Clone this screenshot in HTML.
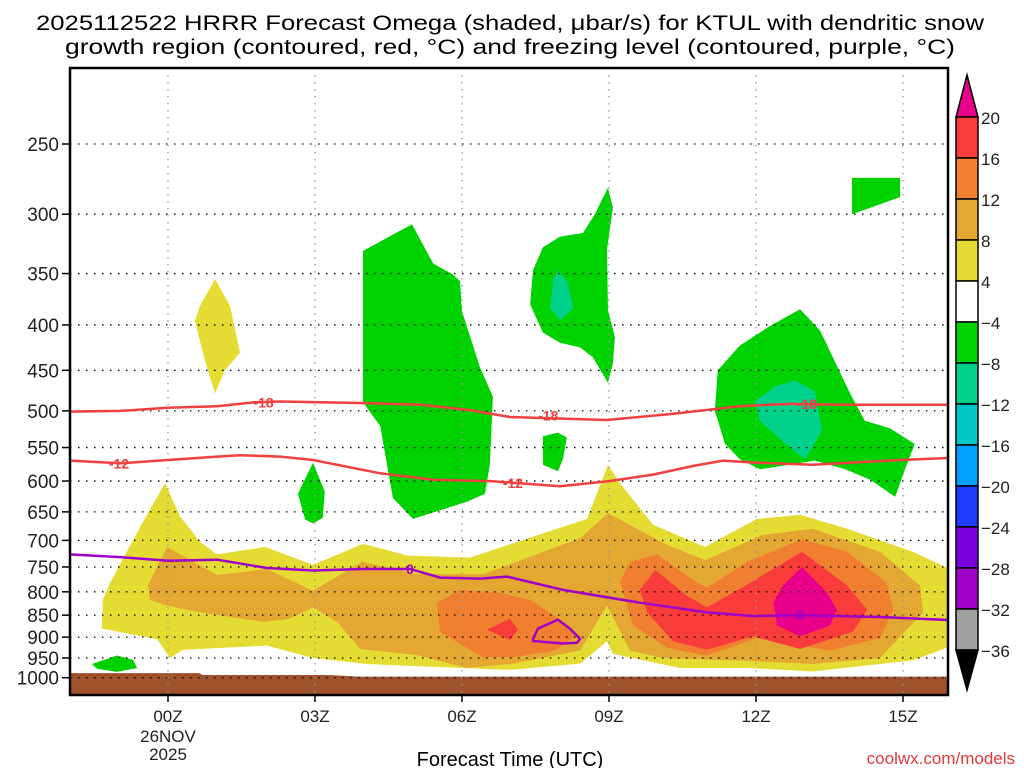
<!DOCTYPE html>
<html><head><meta charset="utf-8"><style>
html,body{margin:0;padding:0;background:#fff;}
svg{display:block;font-family:"Liberation Sans","DejaVu Sans",sans-serif;}
</style></head><body>
<svg id="chart" width="1024" height="768" viewBox="0 0 1024 768" xmlns="http://www.w3.org/2000/svg">
<rect x="0" y="0" width="1024" height="768" fill="#fff"/>
<text x="510" y="30" text-anchor="middle" font-size="21" textLength="948" lengthAdjust="spacingAndGlyphs">2025112522 HRRR Forecast Omega (shaded, μbar/s) for KTUL with dendritic snow</text>
<text x="510" y="54" text-anchor="middle" font-size="21" textLength="890" lengthAdjust="spacingAndGlyphs">growth region (contoured, red, °C) and freezing level (contoured, purple, °C)</text>
<g id="shading"></g>
<g id="grid"></g>
<g id="contours"></g>
<g id="axes"></g>
<g id="colorbar"></g>
<text x="510" y="766" text-anchor="middle" font-size="20">Forecast Time (UTC)</text>
<text x="1015" y="764" text-anchor="end" font-size="17" fill="#e03a3a">coolwx.com/models</text>
</svg>
<script>
// ---- data ----
const pressureTicks = [250,300,350,400,450,500,550,600,650,700,750,800,850,900,950,1000];
const hourTicks = [0,3,6,9,12,15];
const hourTickLabels = ["00Z","03Z","06Z","09Z","12Z","15Z"];
const colorLevels = [20,16,12,8,4,-4,-8,-12,-16,-20,-24,-28,-32,-36];
const colorFills = ["#f83c3c","#f08030","#e4a832","#e4dc32","#ffffff","#00d200","#00d28c","#00c8c8","#00a0ff","#1e3cff","#7800dc","#a000c8","#a0a0a0"];

const yellowRegion = [[-1.35,880],[-1.33,817],[-1.18,781],[-0.84,721],[-0.51,667],[-0.06,603],[0.24,657],[0.65,702],[1.0,726],[1.98,712],[2.96,746],[3.98,706],[4.88,728],[6.16,732],[8.55,662],[8.98,575],[9.22,603],[9.9,672],[10.96,712],[12.02,662],[12.9,655],[13.86,679],[15.2,721],[15.96,754],[15.96,922],[15.2,956],[13.16,984],[11.82,975],[10.45,975],[9.08,940],[8.96,910],[8.41,964],[7.04,979],[6.78,979],[4.06,965],[2.96,950],[2.02,920],[0.31,930],[0.04,950],[-0.22,905]];
const goldRegion = [[-0.02,712],[1.0,766],[2.02,754],[2.96,798],[3.96,740],[5.08,764],[6.43,764],[8.41,696],[8.98,652],[9.57,679],[10.18,708],[10.96,737],[12.14,690],[13.16,679],[14.53,721],[15.35,787],[15.41,844],[14.53,950],[13.16,965],[11.82,957],[10.1,950],[9.43,932],[8.96,829],[8.41,932],[7.04,964],[6.1,975],[5.08,943],[3.92,928],[3.45,865],[2.96,833],[2.49,858],[1.94,865],[0.65,844],[-0.02,829],[-0.37,817],[-0.41,787]];
const orangeRegionA = [[5.49,823],[5.96,796],[6.78,802],[7.39,817],[8.0,859],[8.31,898],[7.9,932],[7.04,948],[6.43,948],[5.96,916],[5.55,887]];
const orangeRegionB = [[9.22,779],[9.43,740],[9.98,726],[10.71,775],[11.0,791],[11.82,740],[12.94,698],[13.86,721],[14.67,781],[14.8,838],[14.53,902],[13.51,932],[12.02,902],[11.0,944],[10.18,925],[9.49,873]];
const redRegionA = [[6.51,883],[6.98,858],[7.14,883],[6.98,907]];
const redRegionB = [[9.63,796],[9.94,756],[10.59,808],[11.0,833],[11.82,785],[12.94,721],[13.86,787],[14.27,838],[13.98,887],[12.9,928],[11.94,898],[11.0,930],[10.31,910],[9.78,844]];
const magentaRegion = [[12.94,750],[13.45,802],[13.65,838],[13.51,873],[12.9,898],[12.43,873],[12.35,823],[12.55,787]];
const upperYellowRegion = [[0.65,381],[0.96,355],[1.27,381],[1.47,430],[1.16,450],[0.96,478],[0.76,440],[0.55,396]];
const greenRegionA = [[3.98,330],[4.98,308],[5.41,341],[5.82,351],[5.96,357],[6.0,386],[6.37,447],[6.63,482],[6.57,574],[6.47,620],[6.10,633],[5.0,662],[4.59,627],[4.33,520],[3.98,489]];
const greenRegionB = [[2.96,572],[3.2,617],[3.16,660],[2.96,670],[2.8,663],[2.65,620]];
const greenRegionC = [[8.98,280],[9.08,295],[8.96,329],[8.98,385],[9.12,413],[9.08,442],[8.98,465],[8.67,435],[8.41,424],[8.0,419],[7.65,408],[7.39,379],[7.45,347],[7.65,327],[8.0,318],[8.47,315],[8.71,300]];
const greenRegionD = [[7.65,534],[7.96,529],[8.14,536],[8.06,567],[7.96,585],[7.65,575]];
const greenRegionE = [[12.9,384],[13.31,406],[13.61,440],[13.92,478],[14.22,513],[14.73,523],[15.24,545],[15.04,582],[14.84,625],[14.33,598],[13.82,582],[13.2,569],[12.69,575],[12.08,582],[11.67,567],[11.37,545],[11.16,500],[11.22,450],[11.67,422],[12.29,401]];
const greenRegionF = [[13.96,273],[14.94,273],[14.94,287],[13.96,300]];
const greenRegionG = [[-1.55,965],[-1.04,944],[-0.71,955],[-0.63,975],[-1.04,985],[-1.45,977]];
const tealRegionA = [[7.96,347],[8.16,358],[8.27,383],[8.0,395],[7.8,383],[7.86,356]];
const tealRegionB = [[12.8,462],[13.2,475],[13.35,526],[13.0,567],[12.49,538],[12.08,513],[11.98,488],[12.39,469]];
const surfaceHours = [-2,0.65,0.7,3.3,3.9,16];
const surfacePressure = [988,988,993,993,997,997];

const freezingLevel = [[-2,726],[-0.98,731],[0,738],[1,736],[2.02,752],[2.96,757],[3.98,754],[4.94,754],[5.55,771],[6.37,773],[6.92,769],[8.06,796],[8.76,808],[9.63,823],[11,844],[11.94,852],[12.9,850],[14.53,854],[15.96,861]];
const freezingLoop = [[7.45,904],[7.55,880],[7.96,860],[8.2,880],[8.41,904],[8.35,913],[8.06,915],[7.45,909]];
const minus18Line = [[-2,501],[-0.98,500],[0,496],[1,494],[1.77,489],[2.29,488],[4.04,490],[5.16,492],[6.16,499],[6.98,508],[8.96,512],[10.29,504],[11.67,494],[12.69,491],[13.71,492],[15.96,492]];
const minus12Line = [[-2,569],[-0.98,573],[0,568],[1,563],[1.47,561],[2.29,563],[2.96,568],[4.33,588],[5.41,598],[6.57,600],[8,608],[9.0,600],[9.9,590],[10.71,577],[11.33,569],[12.0,572],[13.16,575],[14.69,569],[15.96,565]];
const contourLabels = [["-18",1.95,489,"#f04040"],["-18",7.76,506,"#f04040"],["-18",13.04,491,"#f04040"],["-12",-1.0,573,"#f04040"],["-12",7.04,603,"#f04040"],["0",4.94,754,"#a000c8"],["0",12.9,850,"#a000c8"]];

// ---- axes ----
const PL=70, PR=948, PT=68, PB=695;
function xs(h){return 168+49*h;}
function ys(p){return 144+385*Math.log(p/250);}
const NS="http://www.w3.org/2000/svg";
function mk(tag,attrs,parent){const e=document.createElementNS(NS,tag);for(const k in attrs)e.setAttribute(k,attrs[k]);parent.appendChild(e);return e;}
function pts(arr){return arr.map(d=>xs(d[0]).toFixed(1)+","+ys(d[1]).toFixed(1)).join(" ");}

const shadingG=document.getElementById("shading");
const clipEl=mk("clipPath",{id:"plotclip"},document.getElementById("chart"));
mk("rect",{x:PL,y:PT,width:PR-PL,height:PB-PT},clipEl);
shadingG.setAttribute("clip-path","url(#plotclip)");
const regions=[["yellow-region-main",yellowRegion,"#e4dc32"],["yellow-region-upper",upperYellowRegion,"#e4dc32"],["gold-region",goldRegion,"#e4a832"],["orange-region-a",orangeRegionA,"#f08030"],["orange-region-b",orangeRegionB,"#f08030"],["red-region-a",redRegionA,"#f83c3c"],["red-region-b",redRegionB,"#f83c3c"],["magenta-region",magentaRegion,"#e8008a"],["green-region-a",greenRegionA,"#00d200"],["green-region-b",greenRegionB,"#00d200"],["green-region-c",greenRegionC,"#00d200"],["green-region-d",greenRegionD,"#00d200"],["green-region-e",greenRegionE,"#00d200"],["green-region-f",greenRegionF,"#00d200"],["green-region-g",greenRegionG,"#00d200"],["teal-region-a",tealRegionA,"#00d28c"],["teal-region-b",tealRegionB,"#00d28c"]];
regions.forEach(r=>{
  const e=mk("polygon",{points:pts(r[1]),fill:r[2],"stroke-linejoin":"round"},shadingG);
  
  
});
// terrain
let terrPath="M"+xs(surfaceHours[0])+","+PB;
surfaceHours.forEach((h,i)=>{terrPath+=" L"+xs(h).toFixed(1)+","+ys(surfacePressure[i]).toFixed(1);});
terrPath+=" L"+xs(surfaceHours[surfaceHours.length-1])+","+PB+" Z";
const terrEl=mk("path",{d:terrPath,fill:"#a0522d"},shadingG);



// grid
const gridG=document.getElementById("grid");
pressureTicks.forEach(p=>{
  const g=mk("line",{x1:PL,x2:PR,y1:ys(p),y2:ys(p),stroke:"#000","stroke-width":1.3,"stroke-dasharray":"1.5 6.5"},gridG);
  
  
});
hourTicks.forEach(h=>{
  const g=mk("line",{x1:xs(h),x2:xs(h),y1:PT,y2:PB,stroke:"#999","stroke-width":1.3,"stroke-dasharray":"1.5 5.5"},gridG);
  
  
});

// contours
const contG=document.getElementById("contours");
contG.setAttribute("clip-path","url(#plotclip)");
const lineDefs=[["freezing-level-line",freezingLevel,"#a000c8",false],["freezing-level-loop",freezingLoop,"#a000c8",true],["minus18-contour",minus18Line,"#f04040",false],["minus12-contour",minus12Line,"#f04040",false]];
lineDefs.forEach(l=>{
  const e=mk(l[3]?"polygon":"polyline",{points:pts(l[1]),fill:"none",stroke:l[2],"stroke-width":2.5,"stroke-linejoin":"round"},contG);
  
  
});
contourLabels.forEach(c=>{
  const t=mk("text",{x:xs(c[1]),y:ys(c[2])+5,"text-anchor":"middle","font-size":14,"font-weight":"bold",fill:c[3]},contG);
  t.textContent=c[0];
  
  
});

// axes
const axesG=document.getElementById("axes");
const frameEl=mk("rect",{x:PL,y:PT,width:PR-PL,height:PB-PT,fill:"none",stroke:"#000","stroke-width":2.5},axesG);


pressureTicks.forEach(p=>{
  const t=mk("text",{x:59,y:ys(p)+7,"text-anchor":"end","font-size":19,fill:"#222"},axesG);
  t.textContent=p;
  
  
  const tk=mk("line",{x1:PL-8,x2:PL,y1:ys(p),y2:ys(p),stroke:"#000","stroke-width":1.5},axesG);
  
  
});
hourTicks.forEach((h,i)=>{
  const tk=mk("line",{x1:xs(h),x2:xs(h),y1:PB,y2:PB+7,stroke:"#000","stroke-width":1.5},axesG);
  
  
  const t=mk("text",{x:xs(h),y:722,"text-anchor":"middle","font-size":17,fill:"#222"},axesG);
  t.textContent=hourTickLabels[i];
  
  
});
[["26NOV",742],["2025",760]].forEach(d=>{
  const t=mk("text",{x:xs(0),y:d[1],"text-anchor":"middle","font-size":17,fill:"#222"},axesG);
  t.textContent=d[0];
  
  
});

// colorbar
const cbG=document.getElementById("colorbar");
const CX=956, CW=22, CT=117, CH=41;
const topArrow=mk("polygon",{points:`${CX},${CT} ${CX+CW},${CT} ${CX+CW/2},${CT-42}`,fill:"#e8008a",stroke:"#000","stroke-width":1.5},cbG);


colorFills.forEach((c,i)=>{
  const r=mk("rect",{x:CX,y:CT+i*CH,width:CW,height:CH,fill:c,stroke:"#000","stroke-width":1.5},cbG);
  
  
});
const cbBottom=CT+colorFills.length*CH;
const bottomArrow=mk("polygon",{points:`${CX},${cbBottom} ${CX+CW},${cbBottom} ${CX+CW/2},${cbBottom+40}`,fill:"#000",stroke:"#000","stroke-width":1.5},cbG);


colorLevels.forEach((v,i)=>{
  const t=mk("text",{x:981,y:CT+i*CH+7,"font-size":17,fill:"#222"},cbG);
  t.textContent=v<0?"\u2212"+Math.abs(v):String(v);
  
  
});
</script>
</body></html>
